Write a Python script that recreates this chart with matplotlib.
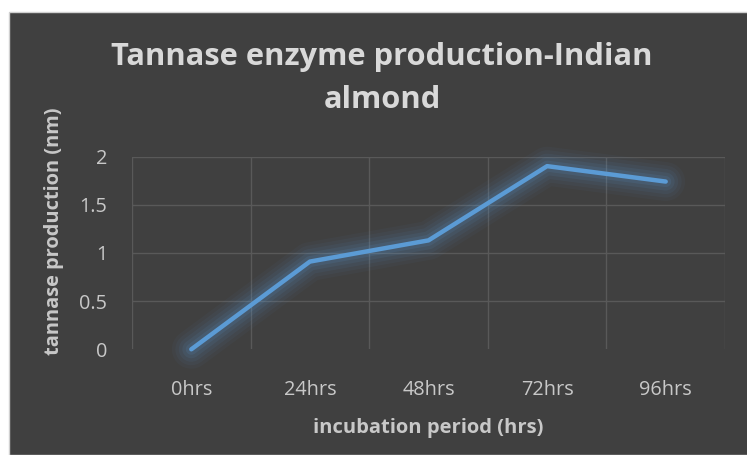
import numpy as np
import matplotlib.pyplot as plt
from matplotlib.patches import Rectangle

# data
categories = ["0hrs", "24hrs", "48hrs", "72hrs", "96hrs"]
production = [0.0, 0.91, 1.13, 1.90, 1.74]
y_ticks = [0, 0.5, 1, 1.5, 2]

BG = "#404040"
GRID = "#595959"
LINE = "#5B9BD5"
TXT = "#d9d9d9"
TICK = "#c8c8c8"

plt.rcParams["font.family"] = ["Open Sans", "DejaVu Sans"]

W, H = 747, 455
fig = plt.figure(figsize=(W / 100, H / 100), dpi=100)
fig.patch.set_facecolor("white")

# dark chart area (the screenshot has a thin white margin left/top)
fig.patches.append(Rectangle((9 / W, 0), 1, (H - 12) / H, transform=fig.transFigure,
                             facecolor=BG, edgecolor="#d0d0d0", linewidth=1.0, zorder=-10))

ax = fig.add_axes([132 / W, (H - 349.3) / H, (725 - 132) / W, (349.3 - 156.5) / H])
ax.set_zorder(1)
ax.patch.set_alpha(0)

x = np.arange(len(categories))

# soft glow around the line
for lw, a in [(28, 0.045), (23, 0.055), (18, 0.07), (13, 0.09), (8, 0.12)]:
    ax.plot(x, production, color=LINE, linewidth=lw, alpha=a, clip_on=False,
            solid_capstyle="round", solid_joinstyle="round", zorder=2)
ax.plot(x, production, color=LINE, linewidth=3.2, clip_on=False,
        solid_capstyle="round", solid_joinstyle="round", zorder=3)

ax.set_xlim(-0.5, len(categories) - 0.5)
ax.set_ylim(0, 2)
ax.set_xticks(x)
ax.set_xticklabels(categories)
ax.set_yticks(y_ticks)
ax.set_yticklabels(["0", "0.5", "1", "1.5", "2"])
ax.set_xticks(np.arange(-0.5, len(categories), 1), minor=True)

ax.grid(axis="y", which="major", color=GRID, linewidth=1.0, zorder=1)
ax.grid(axis="x", which="minor", color=GRID, linewidth=1.0, zorder=1)
ax.yaxis.get_gridlines()[0].set_visible(False)
for s in ax.spines.values():
    s.set_visible(False)
ax.set_axisbelow(True)

ax.tick_params(axis="both", which="both", length=0, colors=TICK, labelsize=14.3)
ax.tick_params(axis="x", pad=22)
ax.tick_params(axis="y", pad=18)

ax.set_xlabel("incubation period (hrs)", fontsize=14.5, fontweight="bold", color=TICK, labelpad=13)
ax.set_ylabel("tannase production (nm)", fontsize=14.4, fontweight="bold", color=TICK)
ax.yaxis.set_label_coords(-0.115, 0.611)

fig.text(382 / W, 1 - 42 / H, "Tannase enzyme production-Indian\nalmond",
         ha="center", va="top", fontsize=22.2, fontweight="bold", color=TXT,
         linespacing=1.55)

fig.savefig("out.png", dpi=100, facecolor=fig.get_facecolor())
